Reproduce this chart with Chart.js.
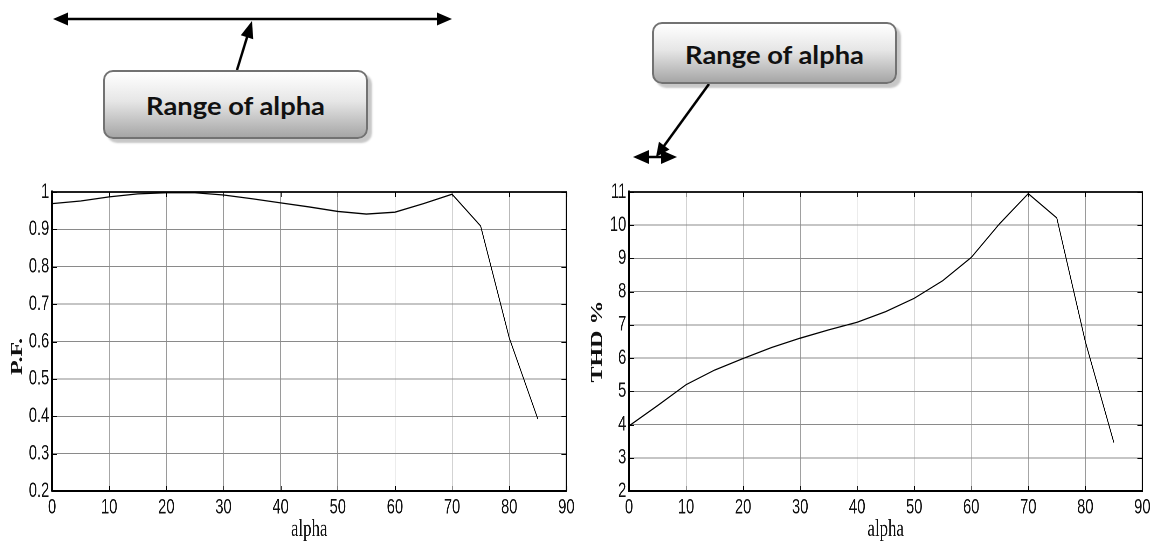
<!DOCTYPE html>
<html>
<head>
<meta charset="utf-8">
<script src="https://cdn.jsdelivr.net/npm/chart.js@4.4.1/dist/chart.umd.min.js"></script>
<style>
  html, body { margin: 0; padding: 0; background: #fff; }
  body { width: 1151px; height: 544px; position: relative; overflow: hidden; }
  .chart-box { position: absolute; transform-origin: 0 0; }
  #arrows { position: absolute; left: 0; top: 0; }
  .callout {
    position: absolute;
    box-sizing: border-box;
    border: 2px solid #727272;
    border-radius: 10px;
    background: linear-gradient(to bottom, #ffffff 0%, #e6e6e6 45%, #a6a6a6 100%);
    box-shadow: 4px 4px 2px rgba(0,0,0,0.22);
    display: flex; align-items: center; justify-content: center;
    font-family: Lato, 'Open Sans', sans-serif;
    font-weight: 700;
    font-size: 24px;
    color: #111;
    white-space: nowrap;
  }
  .callout span { display: inline-block; transform-origin: 50% 50%; }
</style>
</head>
<body>
<svg id="arrows" width="1151" height="544"></svg>
<div class="callout" style="left:103px; top:70px; width:265px; height:69px; padding-top:1px;"><span>Range of alpha</span></div>
<div class="callout" style="left:652px; top:22px; width:245px; height:62px; padding-top:3px;"><span>Range of alpha</span></div>

<div class="chart-box" id="pfBox"><canvas id="pfChart"></canvas></div>
<div class="chart-box" id="thdBox"><canvas id="thdChart"></canvas></div>

<script>
// Firing angle (degrees)
const alphaDeg = [0, 5, 10, 15, 20, 25, 30, 35, 40, 45, 50, 55, 60, 65, 70, 75, 80, 85];
// Power factor vs alpha
const pfValues = [0.969, 0.976, 0.987, 0.995, 0.998, 0.998, 0.992, 0.982, 0.971, 0.960, 0.948, 0.941, 0.946, 0.969, 0.994, 0.909, 0.610, 0.393];
// Total harmonic distortion (%) vs alpha
const thdValues = [3.96, 4.57, 5.20, 5.64, 5.99, 6.32, 6.60, 6.85, 7.08, 7.40, 7.80, 8.33, 9.03, 10.05, 10.95, 10.22, 6.50, 3.46];

const xTickLabels = ['0', '10', '20', '30', '40', '50', '60', '70', '80', '90'];
const pfTickLabels = ['0.2', '0.3', '0.4', '0.5', '0.6', '0.7', '0.8', '0.9', '1'];
const thdTickLabels = ['2', '3', '4', '5', '6', '7', '8', '9', '10', '11'];

// The figures are drawn wide and squeezed horizontally, giving the tall, narrow lettering
const SQUEEZE = 0.7;

const tickFont = { family: "'Liberation Sans', Arial, sans-serif", size: 21 };
const serif = "'Liberation Serif', 'Times New Roman', serif";

// Box frame on top/right plus short inward tick marks on all four sides
const frameTicks = {
  id: 'frameTicks',
  afterDraw(chart) {
    const { ctx, chartArea: a, scales } = chart;
    ctx.save();
    ctx.strokeStyle = '#000';
    ctx.lineWidth = 1;
    ctx.beginPath();
    scales.x.ticks.forEach(t => {
      const px = Math.round(scales.x.getPixelForValue(t.value)) + 0.5;
      ctx.moveTo(px, a.bottom); ctx.lineTo(px, a.bottom - 5);
      ctx.moveTo(px, a.top); ctx.lineTo(px, a.top + 5);
    });
    scales.y.ticks.forEach(t => {
      const py = Math.round(scales.y.getPixelForValue(t.value)) + 0.5;
      ctx.moveTo(a.left, py); ctx.lineTo(a.left + 7, py);
      ctx.moveTo(a.right, py); ctx.lineTo(a.right - 7, py);
    });
    ctx.stroke();
    ctx.lineWidth = 1.8;
    ctx.beginPath();
    ctx.moveTo(a.left, a.top); ctx.lineTo(a.right, a.top); ctx.lineTo(a.right, a.bottom);
    ctx.stroke();
    ctx.restore();
  }
};

function makeChart(boxId, id, values, tickLabels, yTitle, left, width, yAxisWidth, rightPad) {
  const box = document.getElementById(boxId);
  box.style.left = left + 'px';
  box.style.top = '180px';
  box.style.width = (width / SQUEEZE) + 'px';
  box.style.height = '364px';
  box.style.transform = `scaleX(${SQUEEZE})`;

  const points = alphaDeg.map((a, i) => ({ x: a, y: values[i] }));
  const yValues = tickLabels.map(s => parseFloat(s));
  return new Chart(document.getElementById(id), {
    type: 'line',
    data: { datasets: [{ data: points, borderColor: '#000', borderWidth: 1.3, pointRadius: 0, tension: 0, fill: false }] },
    options: {
      responsive: true,
      maintainAspectRatio: false,
      animation: false,
      events: [],
      devicePixelRatio: 2,
      layout: { padding: { top: 12, right: rightPad / SQUEEZE, left: 0, bottom: 0 } },
      plugins: { legend: { display: false }, tooltip: { enabled: false } },
      scales: {
        x: {
          type: 'linear', min: 0, max: 90,
          afterBuildTicks: s => { s.ticks = xTickLabels.map(v => ({ value: parseFloat(v) })); },
          afterFit: s => { s.height = 53; s.paddingLeft = 0; s.paddingRight = 0; },
          grid: { color: '#9a9a9a', lineWidth: 1, drawTicks: false },
          border: { color: '#000', width: 2 },
          ticks: { font: tickFont, color: '#111', padding: 4, maxRotation: 0, autoSkip: false,
                   callback: (v, i) => xTickLabels[i] },
          title: { display: true, text: 'alpha', color: '#111', font: { family: serif, size: 24 }, padding: { top: 0, bottom: 0 } }
        },
        y: {
          min: yValues[0], max: yValues[yValues.length - 1],
          afterBuildTicks: s => { s.ticks = yValues.map(v => ({ value: v })); },
          afterFit: s => { s.width = yAxisWidth / SQUEEZE; s.paddingTop = 0; s.paddingBottom = 0; },
          grid: { color: '#8a8a8a', lineWidth: 1, drawTicks: false },
          border: { color: '#000', width: 3 },
          ticks: { font: tickFont, color: '#111', padding: 4, autoSkip: false,
                   callback: (v, i) => tickLabels[i] },
          title: { display: true, text: yTitle, color: '#111', font: { family: serif, size: 24, weight: 'bold' }, padding: { top: 11, bottom: 0 } }
        }
      }
    },
    plugins: [frameTicks]
  });
}

makeChart('pfBox', 'pfChart', pfValues, pfTickLabels, 'P.F.     ', 0, 580, 52, 14);
makeChart('thdBox', 'thdChart', thdValues, thdTickLabels, 'THD %', 580, 571, 49, 9);

// Callout text stretched to the box lettering width
document.querySelectorAll('.callout span').forEach(s => {
  const w = s.getBoundingClientRect().width;
  s.style.transform = `scaleX(${179 / w})`;
});

// Callout arrows
const svg = document.getElementById('arrows');
const NS = 'http://www.w3.org/2000/svg';
function line(x1, y1, x2, y2, w) {
  const l = document.createElementNS(NS, 'line');
  l.setAttribute('x1', x1); l.setAttribute('y1', y1);
  l.setAttribute('x2', x2); l.setAttribute('y2', y2);
  l.setAttribute('stroke', '#000'); l.setAttribute('stroke-width', w);
  svg.appendChild(l);
}
function head(tx, ty, fx, fy, len, half) {
  const dx = tx - fx, dy = ty - fy, d = Math.hypot(dx, dy);
  const ux = dx / d, uy = dy / d;
  const bx = tx - ux * len, by = ty - uy * len;
  const p = document.createElementNS(NS, 'polygon');
  p.setAttribute('points', `${tx},${ty} ${bx - uy * half},${by + ux * half} ${bx + uy * half},${by - ux * half}`);
  p.setAttribute('fill', '#000');
  svg.appendChild(p);
}
function arrow(x1, y1, x2, y2, w, len, half, both) {
  const dx = x2 - x1, dy = y2 - y1, d = Math.hypot(dx, dy);
  const ux = dx / d, uy = dy / d;
  line(both ? x1 + ux * (len - 2) : x1, both ? y1 + uy * (len - 2) : y1, x2 - ux * (len - 2), y2 - uy * (len - 2), w);
  head(x2, y2, x1, y1, len, half);
  if (both) head(x1, y1, x2, y2, len, half);
}
arrow(53, 19, 452, 19, 2.5, 15, 6.5, true);
arrow(237, 70, 252, 21, 2.5, 17, 6.5, false);
arrow(633, 157, 677, 157, 2.5, 16, 7, true);
arrow(709, 84, 656, 157, 2.5, 14, 6.5, false);
</script>
</body>
</html>
